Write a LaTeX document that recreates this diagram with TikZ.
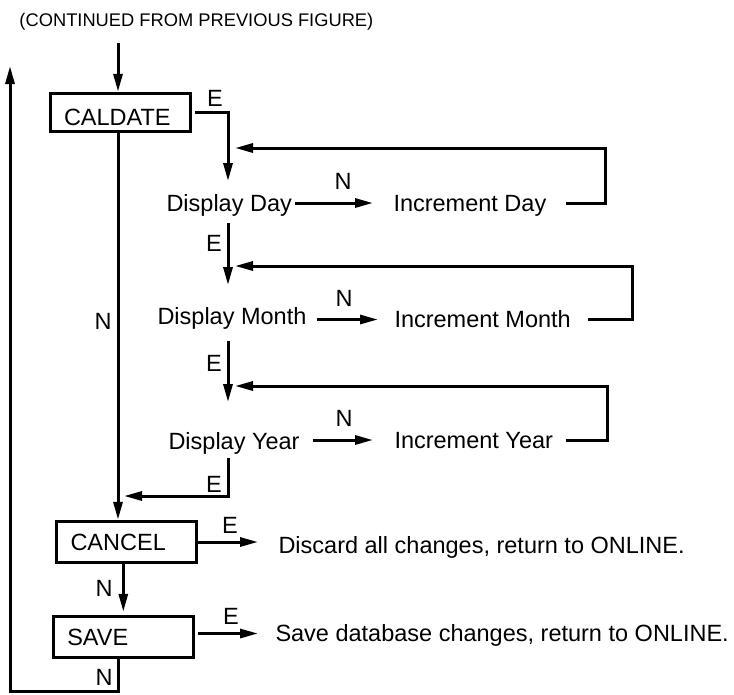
\documentclass[tikz,border=0pt]{standalone}
\usepackage{fontspec}
\setmainfont{Liberation Sans}
\usetikzlibrary{arrows.meta}
\begin{document}
\begin{tikzpicture}[x=1pt,y=-1pt,
  line width=3pt,
  arr/.style={-{Triangle[length=18pt,width=9pt]}},
  txt/.style={font=\fontsize{23.5}{28}\selectfont, inner sep=0pt, text height=16.8pt, text depth=0pt, anchor=west},
  lbl/.style={font=\fontsize{23.5}{28}\selectfont, inner sep=0pt, text height=16.8pt, text depth=0pt},
  box/.style={draw, line width=3pt, minimum width=140pt, minimum height=41.5pt, inner xsep=14pt, inner ysep=0pt, text width=112pt, align=left, font=\fontsize{23.5}{28}\selectfont, text height=16.8pt, text depth=0pt},
  ]
\useasboundingbox (0,0) rectangle (734,694);

% nodes
\node[txt, font=\fontsize{18.3}{22}\selectfont, text height=13.1pt] (title) at (18,19.5) {(CONTINUED FROM PREVIOUS FIGURE)};
\node[box, minimum height=38.5pt, text height=26.8pt] (caldate) at (120,112.5) {CALDATE};
\node[box] (cancel) at (126.5,542) {CANCEL};
\node[box] (save) at (123.3,637) {SAVE};
\node[txt] (dday) at (165,203) {Display Day};
\node[txt] (iday) at (392,203) {Increment Day};
\node[txt] (dmonth) at (156,316) {Display Month};
\node[txt] (imonth) at (393,319.5) {Increment Month};
\node[txt] (dyear) at (167,441) {Display Year};
\node[txt] (iyear) at (393,440) {Increment Year};
\node[txt] (discard) at (277,545.5) {Discard all changes, return to ONLINE.};
\node[txt] (savedb) at (274,633.5) {Save database changes, return to ONLINE.};

% helper coordinates
\coordinate (in) at (118,43);
\coordinate (mc) at (118,0);
\coordinate (col) at (228,0);
\coordinate (r1) at (605,148);
\coordinate (r2) at (632,266);
\coordinate (r3) at (607,386);
\coordinate (j4) at (118,496);
\coordinate (bl) at (10,691);
\coordinate (ret) at (10,66);

% connectors
\draw[arr] (in) -- (in |- caldate.north);
\draw[arr, shorten <=3pt, shorten >=12pt] (caldate.east) -| (dday.north -| col);
\draw[arr, shorten <=2pt, shorten >=19pt] (dday.east) -- (iday.west);
\draw[arr, shorten <=18pt, shorten >=7pt] (iday.east) -| (r1) -- (r1 -| col);
\draw[arr, shorten <=10pt, shorten >=21pt] (dday.south -| col) -- (dmonth.north -| col);
\draw[arr, shorten <=9pt, shorten >=15pt] (dmonth.east |- imonth.west) -- (imonth.west);
\draw[arr, shorten <=16pt, shorten >=7pt] (imonth.east) -| (r2) -- (r2 -| col);
\draw[arr, shorten <=15pt, shorten >=29pt] (dmonth.south -| col) -- (dyear.north -| col);
\draw[arr, shorten <=12pt, shorten >=20pt] (dyear.east |- iyear.west) -- (iyear.west);
\draw[arr, shorten <=11pt, shorten >=7pt] (iyear.east) -| (r3) -- (r3 -| col);
\draw[arr, shorten <=7pt, shorten >=6pt] (dyear.south -| col) |- (j4);
\draw[arr] (caldate.south -| mc) -- (cancel.north -| mc);
\draw[arr, shorten >=19pt] (cancel.east) -- (cancel.east -| discard.west);
\draw[arr, shorten >=3pt] (cancel.south -| save.north) -- (save.north);
\draw[arr, shorten <=3pt, shorten >=16pt] (save.east |- savedb.west) -- (savedb.west);
\draw[arr] (save.south -| mc) -- (mc |- bl) -- (bl) -- (ret);

% labels
\node[lbl] (e1) at (215,98.5) {E};
\node[lbl] (n1) at (343,181) {N};
\node[lbl] (e2) at (214,243) {E};
\node[lbl] (n2) at (344,298) {N};
\node[lbl] (e3) at (214,363) {E};
\node[lbl] (n3) at (344,418) {N};
\node[lbl] (e4) at (214,484) {E};
\node[lbl] (n4) at (103,321) {N};
\node[lbl] (e5) at (230,525) {E};
\node[lbl] (n5) at (104,588) {N};
\node[lbl] (e6) at (231,616) {E};
\node[lbl] (n6) at (104,677) {N};
\end{tikzpicture}
\end{document}
